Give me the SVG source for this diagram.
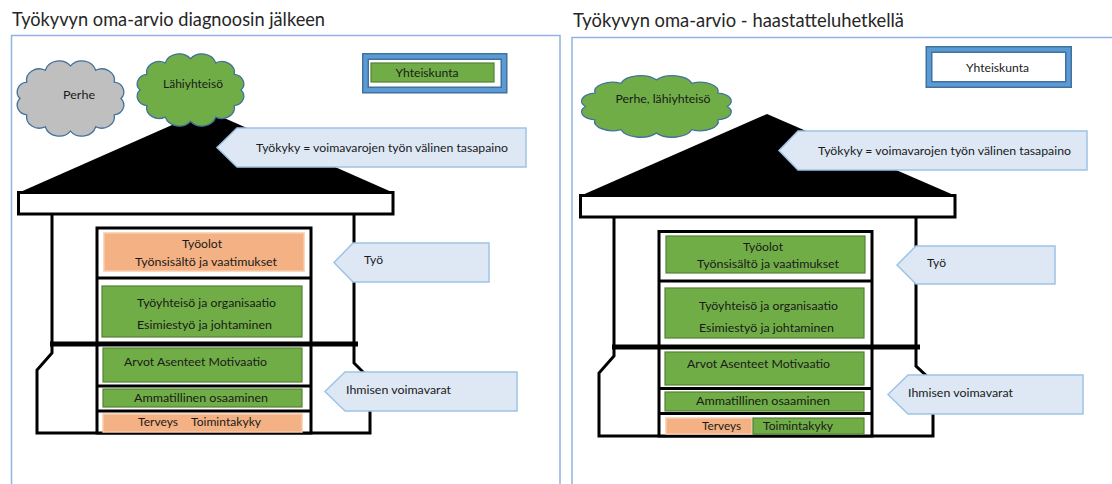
<svg xmlns="http://www.w3.org/2000/svg" xmlns:xlink="http://www.w3.org/1999/xlink" width="1112" height="484" viewBox="0 0 1112 484">
<style>
.panel{fill:none;stroke:#8EB4E3;stroke-width:1.5}
.title{font-family:Lato,"Open Sans",sans-serif;font-size:18.4px;fill:#262626}
.t{font-family:Lato,"Open Sans",sans-serif;font-size:12px;fill:#1a1a1a}
.roof{fill:#000}
.eave{fill:#fff;stroke:#000;stroke-width:3}
.wall{fill:none;stroke:#000;stroke-width:3;stroke-linejoin:miter}
.thick{stroke:#000;stroke-width:5}
.stack{fill:#fff;stroke:#000;stroke-width:3}
.sep{stroke:#000;stroke-width:3}
.green{fill:#70AD47;stroke:#548235;stroke-width:1.2}
.salmon{fill:#F4B183;stroke:#F8CBAD;stroke-width:1.5}
.call{fill:#DEE8F5;stroke:#9DC3E6;stroke-width:1.5}
.cgray{fill:#BFBFBF;stroke:#41719C;stroke-width:1.3}
.cgreen{fill:#70AD47;stroke:#41719C;stroke-width:1.3}
.yk1{fill:#fff;stroke:#41719C;stroke-width:7}
.yk2{fill:none;stroke:#5B9BD5;stroke-width:4}
</style>
<defs>
<path id="cloud" vector-effect="non-scaling-stroke" d="M8,40 A9,9 0 0 1 13.6,25 A10.5,10.5 0 0 1 29,14 A12,12 0 0 1 50,10 A12,12 0 0 1 71,14 A10.5,10.5 0 0 1 86.4,25 A9,9 0 0 1 92,40 A9,9 0 0 1 86.4,55 A10.5,10.5 0 0 1 71,66 A12,12 0 0 1 50,70 A12,12 0 0 1 29,66 A10.5,10.5 0 0 1 13.6,55 A9,9 0 0 1 8,40 Z"/>
</defs>
<rect width="1112" height="484" fill="#fff"/>

<!-- Left panel -->
<g id="panel-left">
<text class="title" x="12" y="26" textLength="313" lengthAdjust="spacingAndGlyphs">Työkyvyn oma-arvio diagnoosin jälkeen</text>
<rect class="panel" x="11.5" y="35.5" width="548.5" height="470"/>
</g>
<g id="house-left">
<polygon class="roof" points="18,193 206,110 394,193"/>
<rect class="eave" x="18.5" y="192.5" width="374.5" height="21.5"/>
<polyline class="wall" points="52,214 52,344"/>
<polyline class="wall" points="354,214 354,344"/>
<line class="thick" x1="50" y1="344" x2="358" y2="344"/>
<polyline class="wall" points="52,344 52,353 37,370 37,433 370,433 370,379 354,363 354,344"/>
</g>
<g id="stack-left">
<rect class="stack" x="97" y="228" width="214" height="205"/>
<line class="sep" x1="97" y1="278" x2="311" y2="278"/>
<line class="sep" x1="97" y1="386" x2="311" y2="386"/>
<line class="sep" x1="97" y1="411" x2="311" y2="411"/>
<line class="thick" x1="97" y1="344" x2="311" y2="344"/>
</g>
<g id="cell-tyoolot-left">
<rect class="salmon" x="104" y="233" width="200" height="38"/>
<text class="t" x="182" y="248" textLength="40" lengthAdjust="spacingAndGlyphs">Työolot</text>
<text class="t" x="135" y="266" textLength="142" lengthAdjust="spacingAndGlyphs">Työnsisältö ja vaatimukset</text>
</g>
<g id="cell-tyoyhteiso-left">
<rect class="green" x="102" y="286" width="200" height="51"/>
<text class="t" x="137" y="307" textLength="139" lengthAdjust="spacingAndGlyphs">Työyhteisö ja organisaatio</text>
<text class="t" x="137" y="329" textLength="135" lengthAdjust="spacingAndGlyphs">Esimiestyö ja johtaminen</text>
</g>
<g id="cell-arvot-left">
<rect class="green" x="103" y="348" width="199" height="34"/>
<text class="t" x="124" y="366" textLength="143" lengthAdjust="spacingAndGlyphs">Arvot Asenteet Motivaatio</text>
</g>
<g id="cell-ammatillinen-left">
<rect class="green" x="103" y="389" width="199" height="18"/>
<text class="t" x="134" y="402" textLength="134" lengthAdjust="spacingAndGlyphs">Ammatillinen osaaminen</text>
</g>
<g id="cell-terveys-left">
<rect class="salmon" x="103" y="414" width="199" height="18"/>
<text class="t" x="138" y="426" textLength="40" lengthAdjust="spacingAndGlyphs">Terveys</text>
<text class="t" x="191" y="426" textLength="70" lengthAdjust="spacingAndGlyphs">Toimintakyky</text>
</g>
<g id="cloud-perhe-left">
<use xlink:href="#cloud" href="#cloud" class="cgray" transform="translate(10.4,55.1) scale(1.202,1.085)"/>
<text class="t" x="79" y="99" text-anchor="middle" textLength="32" lengthAdjust="spacingAndGlyphs">Perhe</text>
</g>
<g id="cloud-lahiyhteiso-left">
<use xlink:href="#cloud" href="#cloud" class="cgreen" transform="translate(130.4,48.3) scale(1.202,1.042)"/>
<text class="t" x="193" y="88" text-anchor="middle" textLength="60" lengthAdjust="spacingAndGlyphs">Lähiyhteisö</text>
</g>
<g id="yhteiskunta-left">
<rect class="yk1" x="365.5" y="56.5" width="138.5" height="33.5"/>
<rect class="yk2" x="365.5" y="56.5" width="138.5" height="33.5"/>
<rect class="green" x="371" y="63" width="123" height="19"/>
<text class="t" x="427" y="77" text-anchor="middle" textLength="63" lengthAdjust="spacingAndGlyphs">Yhteiskunta</text>
</g>
<g id="callout-tyokyky-left">
<polygon class="call" points="217,147.5 237,128 526,128 526,167 237,167"/>
<text class="t" x="256" y="152" textLength="252" lengthAdjust="spacingAndGlyphs">Työkyky = voimavarojen työn välinen tasapaino</text>
</g>
<g id="callout-tyo-left">
<polygon class="call" points="334,262.5 353,243 489,243 489,282 353,282"/>
<text class="t" x="364" y="264" textLength="19" lengthAdjust="spacingAndGlyphs">Työ</text>
</g>
<g id="callout-ihmisen-left">
<polygon class="call" points="325,391.5 345,372 517,372 517,411 345,411"/>
<text class="t" x="346" y="394" textLength="105" lengthAdjust="spacingAndGlyphs">Ihmisen voimavarat</text>
</g>

<!-- Right panel -->
<g id="panel-right">
<text class="title" x="573" y="27" textLength="331" lengthAdjust="spacingAndGlyphs">Työkyvyn oma-arvio - haastatteluhetkellä</text>
<rect class="panel" x="572" y="37.5" width="560" height="470"/>
</g>
<g id="house-right">
<polygon class="roof" points="580,196 767,114 956,196"/>
<rect class="eave" x="580.5" y="195.5" width="374.5" height="21.5"/>
<polyline class="wall" points="614,217 614,347"/>
<polyline class="wall" points="916,217 916,347"/>
<line class="thick" x1="612" y1="347" x2="920" y2="347"/>
<polyline class="wall" points="614,347 614,356 599,373 599,436 933,436 933,382 916,366 916,347"/>
</g>
<g id="stack-right">
<rect class="stack" x="659" y="231.5" width="213" height="204.5"/>
<line class="sep" x1="659" y1="281" x2="872" y2="281"/>
<line class="sep" x1="659" y1="388.5" x2="872" y2="388.5"/>
<line class="sep" x1="659" y1="413.5" x2="872" y2="413.5"/>
<line class="thick" x1="659" y1="347" x2="872" y2="347"/>
</g>
<g id="cell-tyoolot-right">
<rect class="green" x="666" y="236" width="199" height="37"/>
<text class="t" x="743" y="251" textLength="40" lengthAdjust="spacingAndGlyphs">Työolot</text>
<text class="t" x="697" y="268" textLength="142" lengthAdjust="spacingAndGlyphs">Työnsisältö ja vaatimukset</text>
</g>
<g id="cell-tyoyhteiso-right">
<rect class="green" x="665" y="288" width="199" height="50"/>
<text class="t" x="699" y="310" textLength="139" lengthAdjust="spacingAndGlyphs">Työyhteisö ja organisaatio</text>
<text class="t" x="699" y="332" textLength="135" lengthAdjust="spacingAndGlyphs">Esimiestyö ja johtaminen</text>
</g>
<g id="cell-arvot-right">
<rect class="green" x="665" y="352" width="199" height="33"/>
<text class="t" x="687" y="368" textLength="143" lengthAdjust="spacingAndGlyphs">Arvot Asenteet Motivaatio</text>
</g>
<g id="cell-ammatillinen-right">
<rect class="green" x="665" y="392" width="199" height="19"/>
<text class="t" x="696" y="405" textLength="134" lengthAdjust="spacingAndGlyphs">Ammatillinen osaaminen</text>
</g>
<g id="cell-terveys-right">
<rect class="salmon" x="666" y="418" width="86" height="16"/>
<rect class="green" x="753" y="418" width="111" height="16"/>
<text class="t" x="702" y="430" textLength="39" lengthAdjust="spacingAndGlyphs">Terveys</text>
<text class="t" x="763" y="430" textLength="70" lengthAdjust="spacingAndGlyphs">Toimintakyky</text>
</g>
<g id="cloud-perhe-lahiyhteiso-right">
<use xlink:href="#cloud" href="#cloud" class="cgreen" transform="translate(571.9,71) scale(1.69,0.887)"/>
<text class="t" x="663" y="103" text-anchor="middle" textLength="95" lengthAdjust="spacingAndGlyphs">Perhe, lähiyhteisö</text>
</g>
<g id="yhteiskunta-right">
<rect class="yk1" x="929" y="49.5" width="139.5" height="35"/>
<rect class="yk2" x="929" y="49.5" width="139.5" height="35"/>
<text class="t" x="997.5" y="72" text-anchor="middle" textLength="63" lengthAdjust="spacingAndGlyphs">Yhteiskunta</text>
</g>
<g id="callout-tyokyky-right">
<polygon class="call" points="779,150.5 798,131 1087,131 1087,170 798,170"/>
<text class="t" x="818" y="155" textLength="253" lengthAdjust="spacingAndGlyphs">Työkyky = voimavarojen työn välinen tasapaino</text>
</g>
<g id="callout-tyo-right">
<polygon class="call" points="897,265 916,246 1055,246 1055,284 916,284"/>
<text class="t" x="927" y="267" textLength="19" lengthAdjust="spacingAndGlyphs">Työ</text>
</g>
<g id="callout-ihmisen-right">
<polygon class="call" points="888,394.5 908,375 1083,375 1083,414 908,414"/>
<text class="t" x="908" y="397" textLength="105" lengthAdjust="spacingAndGlyphs">Ihmisen voimavarat</text>
</g>
<g id="connectors"/>
</svg>
